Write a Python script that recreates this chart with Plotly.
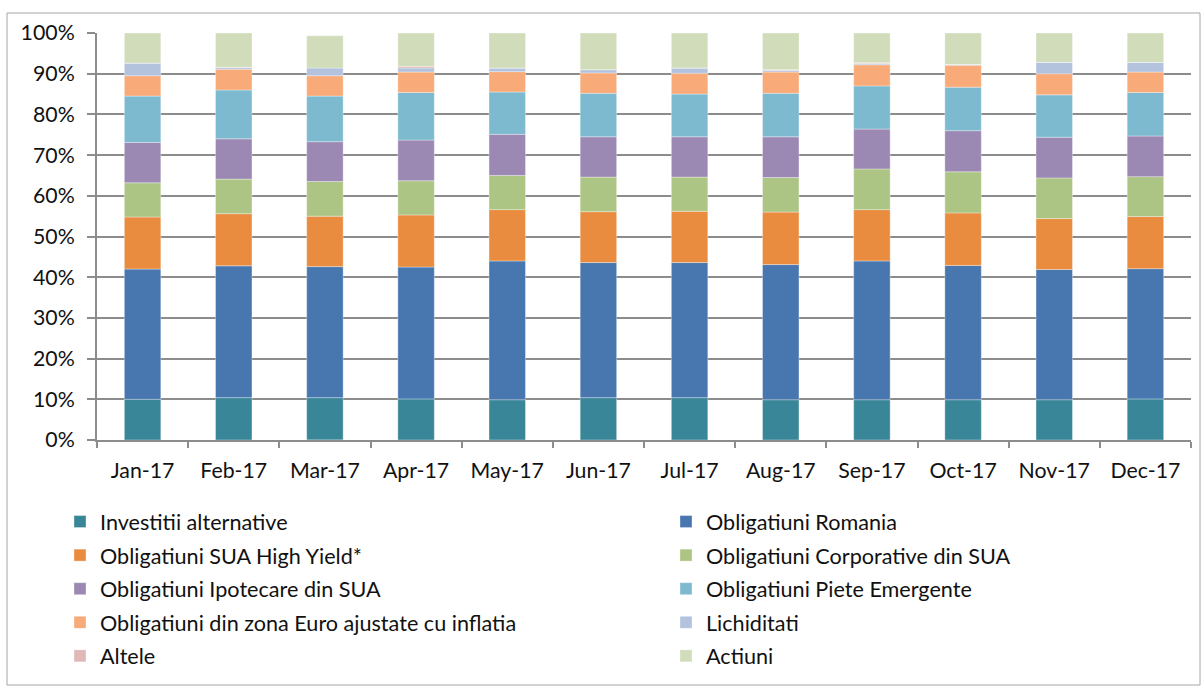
import plotly.graph_objects as go

months = ["Jan-17", "Feb-17", "Mar-17", "Apr-17", "May-17", "Jun-17",
          "Jul-17", "Aug-17", "Sep-17", "Oct-17", "Nov-17", "Dec-17"]

investitii_alternative = [10.0, 10.4, 10.4, 10.1, 9.9, 10.4, 10.4, 9.9, 9.9, 9.9, 9.9, 10.1]
obligatiuni_romania = [32.0, 32.4, 32.2, 32.4, 34.1, 33.2, 33.2, 33.2, 34.1, 33.0, 32.0, 32.0]
obligatiuni_sua_hy = [12.8, 12.8, 12.4, 12.8, 12.6, 12.5, 12.6, 12.9, 12.6, 12.9, 12.5, 12.8]
obligatiuni_corporative = [8.4, 8.5, 8.5, 8.4, 8.4, 8.5, 8.4, 8.5, 10.0, 10.1, 10.0, 9.8]
obligatiuni_ipotecare = [9.9, 9.9, 9.8, 10.0, 10.1, 9.9, 9.9, 10.0, 9.8, 10.1, 10.0, 10.0]
obligatiuni_emergente = [11.4, 12.0, 11.2, 11.7, 10.4, 10.7, 10.5, 10.7, 10.6, 10.7, 10.4, 10.7]
obligatiuni_euro = [5.0, 5.1, 5.0, 5.0, 5.0, 5.0, 5.1, 5.2, 5.2, 5.4, 5.2, 5.0]
lichiditati = [3.1, 0.4, 1.9, 1.0, 0.9, 0.8, 1.3, 0.4, 0.3, 0.2, 2.8, 2.4]
altele = [0.0, 0.1, -0.7, 0.4, 0.0, 0.0, 0.0, 0.2, 0.2, 0.0, 0.0, 0.0]
actiuni = [7.4, 8.4, 7.9, 8.2, 8.6, 9.0, 8.6, 9.0, 7.3, 7.7, 7.2, 7.2]

series = [
    ("Investitii alternative", investitii_alternative, "#398698"),
    ("Obligatiuni Romania", obligatiuni_romania, "#4877B0"),
    ("Obligatiuni SUA High Yield*", obligatiuni_sua_hy, "#E98C3F"),
    ("Obligatiuni Corporative din SUA", obligatiuni_corporative, "#ADC584"),
    ("Obligatiuni Ipotecare din SUA", obligatiuni_ipotecare, "#9B89B3"),
    ("Obligatiuni Piete Emergente", obligatiuni_emergente, "#7DB9CF"),
    ("Obligatiuni din zona Euro ajustate cu inflatia", obligatiuni_euro, "#F8AA78"),
    ("Lichiditati", lichiditati, "#B3C3DE"),
    ("Altele", altele, "#DFB8B7"),
    ("Actiuni", actiuni, "#D0DCBA"),
]

FONT = "Lato"
TXT = "#111111"
GRID = "#8c8c8c"
AX_FS = 21.3
LG_FS = 21.6

fig = go.Figure()
for i, (name, vals, color) in enumerate(series):
    fig.add_trace(go.Bar(
        x=months, y=vals, name=name,
        marker=dict(color=color, line=dict(color="rgba(255,255,255,0.45)", width=0.75)),
        legend="legend" if i % 2 == 0 else "legend2",
        legendgroup=name,
        hovertemplate="%{x}: %{y:.1f}%<extra>" + name + "</extra>",
    ))

# plot area in pixels: x 97..1191, y 33..440
L, R, T, B = 97, 1202 - 1191, 33, 686 - 440
PW, PH = 1191 - 97, 440 - 33

def px_x(p):
    return (p - L) / PW

def px_y(p):
    return (440 - p) / PH

fig.update_layout(
    width=1202, height=686,
    margin=dict(l=L, r=R, t=T, b=B, pad=0, autoexpand=False),
    paper_bgcolor="white", plot_bgcolor="white",
    barmode="relative", bargap=0.6,
    font=dict(family=FONT, size=AX_FS, color=TXT),
    showlegend=True,
    legend=dict(
        x=px_x(60), y=px_y(501), xanchor="left", yanchor="top",
        orientation="v", traceorder="grouped", tracegroupgap=2.5,
        font=dict(family=FONT, size=LG_FS, color=TXT),
        itemwidth=30, bgcolor="rgba(0,0,0,0)",
    ),
    legend2=dict(
        x=px_x(666), y=px_y(501), xanchor="left", yanchor="top",
        orientation="v", traceorder="grouped", tracegroupgap=2.5,
        font=dict(family=FONT, size=LG_FS, color=TXT),
        itemwidth=30, bgcolor="rgba(0,0,0,0)",
    ),
    xaxis=dict(
        type="category", showline=True, linecolor=GRID, linewidth=2,
        ticks="outside", tickson="boundaries", ticklen=6, tickcolor=GRID, tickwidth=2,
        ticklabelstandoff=10,
        showgrid=False, tickfont=dict(family=FONT, size=AX_FS, color=TXT),
    ),
    yaxis=dict(
        range=[0, 100], dtick=10, ticksuffix="%",
        showline=True, linecolor=GRID, linewidth=2,
        ticks="outside", ticklen=8, tickcolor=GRID, tickwidth=2,
        ticklabelstandoff=8,
        showgrid=True, gridcolor=GRID, gridwidth=2, zeroline=False,
        tickfont=dict(family=FONT, size=AX_FS, color=TXT),
    ),
    shapes=[dict(
        type="rect", xref="paper", yref="paper",
        x0=px_x(7), x1=px_x(1200), y0=px_y(685), y1=px_y(13),
        line=dict(color="#a6a6a6", width=1), fillcolor="rgba(0,0,0,0)", layer="below",
    )],
)

fig.write_html(
    "out.html",
    config={"displayModeBar": False},
    post_script="document.body.style.margin='0';document.body.style.overflow='hidden';",
)
